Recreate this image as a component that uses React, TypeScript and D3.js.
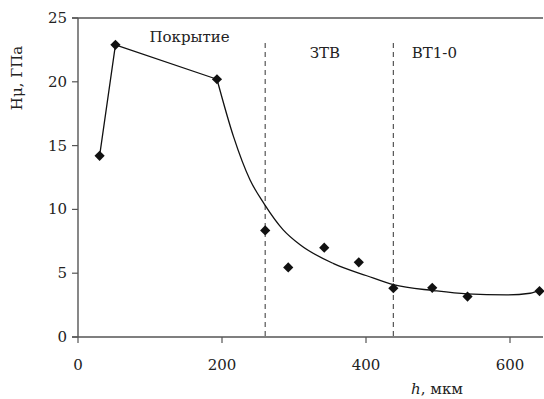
import React, { useEffect, useRef } from 'react';
import * as d3 from 'd3';

// измеренные точки (h, мкм ; Hμ, ГПа)
const depth = [30, 52, 193, 260, 292, 342, 390, 438, 492, 541, 641];
const hardness = [14.2, 22.9, 20.2, 8.35, 5.45, 7.0, 5.85, 3.82, 3.85, 3.17, 3.6];

// линия тренда
const trendX = [193, 216, 239, 259, 285, 308, 355, 401, 438, 494, 540, 595, 628, 642];
const trendY = [20.2, 15.7, 12.3, 10.4, 8.4, 7.25, 5.75, 4.8, 4.1, 3.64, 3.38, 3.3, 3.43, 3.69];

const yTicks = [0, 5, 10, 15, 20, 25];
const xTicks = [0, 200, 400, 600];
const zoneBorders = [260, 438];
const zoneLabels = [
  { name: 'Покрытие', x: 155, y: 23.1 },
  { name: 'ЗТВ', x: 343, y: 21.9 },
  { name: 'ВТ1-0', x: 495, y: 21.9 },
];

const W = 544;
const H = 399;
const FONT = '"DejaVu Serif", serif';

export default function App() {
  const ref = useRef<SVGSVGElement>(null);

  useEffect(() => {
    document.body.style.margin = '0';
    const svg = d3.select(ref.current);
    svg.selectAll('*').remove();

    const x = d3.scaleLinear().domain([0, 600]).range([78, 510]);
    const y = d3.scaleLinear().domain([0, 25]).range([337, 18]);
    const xEnd = 543;
    const axisColor = '#555';

    // рамка: левая ось, нижняя ось, верхняя линия
    svg.append('line')
      .attr('x1', x(0)).attr('x2', x(0)).attr('y1', y(25)).attr('y2', y(0))
      .attr('stroke', axisColor).attr('stroke-width', 1.4);
    svg.append('line')
      .attr('x1', x(0) - 6).attr('x2', xEnd).attr('y1', y(0)).attr('y2', y(0))
      .attr('stroke', axisColor).attr('stroke-width', 1.4);
    svg.append('line')
      .attr('x1', x(0) - 6).attr('x2', xEnd).attr('y1', y(25)).attr('y2', y(25))
      .attr('stroke', axisColor).attr('stroke-width', 1.4);

    // деления оси Y
    const yg = svg.append('g');
    yTicks.forEach(t => {
      yg.append('line')
        .attr('x1', x(0) - 6).attr('x2', x(0)).attr('y1', y(t)).attr('y2', y(t))
        .attr('stroke', axisColor).attr('stroke-width', 1.2);
      yg.append('text')
        .attr('x', 67).attr('y', y(t) + 5)
        .attr('text-anchor', 'end')
        .attr('font-family', FONT).attr('font-size', 15).attr('fill', '#222')
        .text(t);
    });

    // деления оси X
    const xg = svg.append('g');
    xTicks.forEach(t => {
      xg.append('line')
        .attr('x1', x(t)).attr('x2', x(t)).attr('y1', y(0)).attr('y2', y(0) + 6)
        .attr('stroke', axisColor).attr('stroke-width', 1.2);
      xg.append('text')
        .attr('x', x(t)).attr('y', 370)
        .attr('text-anchor', 'middle')
        .attr('font-family', FONT).attr('font-size', 15).attr('fill', '#222')
        .text(t);
    });

    // подписи осей
    svg.append('text')
      .attr('transform', `translate(22,78) rotate(-90)`)
      .attr('text-anchor', 'middle')
      .attr('font-family', FONT).attr('font-size', 15).attr('fill', '#222')
      .text('Hμ, ГПа');
    const xl = svg.append('text')
      .attr('x', 437).attr('y', 394)
      .attr('text-anchor', 'middle')
      .attr('font-family', FONT).attr('font-size', 15).attr('fill', '#222');
    xl.append('tspan').attr('font-style', 'italic').text('h');
    xl.append('tspan').text(', мкм');

    // границы зон
    zoneBorders.forEach(b => {
      svg.append('line')
        .attr('x1', x(b)).attr('x2', x(b)).attr('y1', 43).attr('y2', y(0))
        .attr('stroke', '#555').attr('stroke-width', 1.2)
        .attr('stroke-dasharray', '5,4');
    });

    zoneLabels.forEach(z => {
      svg.append('text')
        .attr('x', x(z.x)).attr('y', y(z.y))
        .attr('text-anchor', 'middle')
        .attr('font-family', FONT).attr('font-size', 15).attr('fill', '#222')
        .text(z.name);
    });

    // ломаная по первым трём точкам
    const first = depth.slice(0, 3).map((d, i) => [d, hardness[i]] as [number, number]);
    const line = d3.line<[number, number]>().x(d => x(d[0])).y(d => y(d[1]));
    svg.append('path')
      .attr('d', line(first))
      .attr('fill', 'none').attr('stroke', '#111').attr('stroke-width', 1.3);

    // сглаженная кривая
    const trend = trendX.map((d, i) => [d, trendY[i]] as [number, number]);
    const smooth = d3.line<[number, number]>()
      .x(d => x(d[0])).y(d => y(d[1]))
      .curve(d3.curveMonotoneX);
    svg.append('path')
      .attr('d', smooth(trend))
      .attr('fill', 'none').attr('stroke', '#111').attr('stroke-width', 1.3);

    // маркеры
    const marker = d3.symbol().type(d3.symbolSquare).size(52);
    svg.append('g')
      .selectAll('path')
      .data(depth.map((d, i) => [d, hardness[i]]))
      .enter()
      .append('path')
      .attr('d', marker)
      .attr('transform', d => `translate(${x(d[0])},${y(d[1])}) rotate(45)`)
      .attr('fill', '#111');
  }, []);

  return <svg ref={ref} width={W} height={H} style={{ display: 'block', background: '#fff' }} />;
}
